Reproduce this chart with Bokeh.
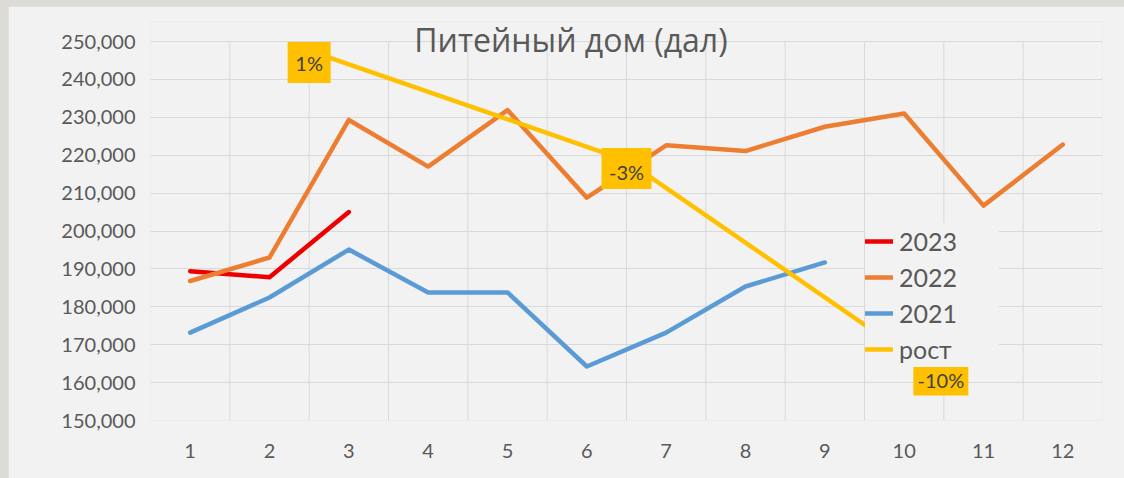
from bokeh.plotting import figure
from bokeh.models import (Range1d, FixedTicker, NumeralTickFormatter, Legend,
                          LegendItem, Label, GlobalInlineStyleSheet)
from bokeh.core.properties import value
from bokeh.embed import file_html
from bokeh.resources import INLINE

# ---------------- data ----------------
months = [1, 2, 3, 4, 5, 6, 7, 8, 9, 10, 11, 12]
y2023 = [189400, 187800, 205000]
y2022 = [186800, 193000, 229300, 217000, 231900, 208800, 222600, 221100,
         227500, 231000, 206700, 222800]
y2021 = [173200, 182450, 195100, 183800, 183800, 164250, 173200, 185350,
         191700]
growth = [0.010, -0.0268, -0.100]          # "рост" (secondary axes)
growth_labels = ["1%", "-3%", "-10%"]
y_ticks = [150000, 160000, 170000, 180000, 190000, 200000, 210000, 220000,
           230000, 240000, 250000]

# ---------------- style ----------------
FONT = "Lato"
TXT = "#595959"
GRID = "#d9d9d9"
BG = "#f2f2f2"
C23, C22, C21, CG = "#ee0000", "#ed7d31", "#5b9bd5", "#ffc000"

W, H = 1116, 472
GRID_H = 379          # px between the lowest and highest y gridline
EXT = 20              # frame extends this far above the top gridline (room for title)
ML, MR, MB = 142, 22, 58
MT = H - MB - GRID_H - EXT

y_lo, y_hi = y_ticks[0], y_ticks[-1]
y_end = y_hi + EXT * (y_hi - y_lo) / GRID_H

p = figure(width=W, height=H, title=None, output_backend="svg",
           toolbar_location=None,
           x_range=Range1d(0.5, 12.5), y_range=Range1d(y_lo, y_end),
           min_border_left=ML, min_border_right=MR,
           min_border_top=MT, min_border_bottom=MB)
p.stylesheets = [GlobalInlineStyleSheet(css=(
    "html, body { margin: 0; background-color: #dddbd6; }"
    " body { padding: 6px 0 0 8px; box-sizing: border-box; }"))]
p.background_fill_color = BG
p.border_fill_color = BG
p.outline_line_color = None

# secondary axes for "рост"
sec_lo, sec_hi = -0.11371, 0.01301
px_per_y = GRID_H / (sec_hi - sec_lo)
p.extra_x_ranges = {"sx": Range1d(0, len(growth))}
p.extra_y_ranges = {"sy": Range1d(sec_lo, sec_hi + EXT / px_per_y)}

# axes
p.xaxis.ticker = FixedTicker(ticks=months)
p.yaxis.ticker = FixedTicker(ticks=y_ticks)
p.yaxis.formatter = NumeralTickFormatter(format="0,0")
for ax in (p.xaxis, p.yaxis):
    ax.axis_line_color = None
    ax.major_tick_line_color = None
    ax.minor_tick_line_color = None
    ax.major_label_text_font = FONT
    ax.major_label_text_font_size = "20px"
    ax.major_label_text_color = TXT
p.xaxis.major_label_standoff = 17
p.yaxis.major_label_standoff = 9

# grids: horizontal via grid, vertical (category boundaries) as segments
p.xgrid.visible = False
p.ygrid.ticker = FixedTicker(ticks=y_ticks)
p.ygrid.grid_line_color = GRID
bounds = [m + 0.5 for m in months[:-1]]
p.segment(x0=bounds, y0=[y_lo] * len(bounds), x1=bounds, y1=[y_hi] * len(bounds),
          line_color=GRID, line_width=1)

LW = 4.5
r23 = p.line(months[:len(y2023)], y2023, line_color=C23, line_width=LW,
             line_join="round", line_cap="round")
r22 = p.line(months[:len(y2022)], y2022, line_color=C22, line_width=LW,
             line_join="round", line_cap="round")
r21 = p.line(months[:len(y2021)], y2021, line_color=C21, line_width=LW,
             line_join="round", line_cap="round")
gx = [i + 0.5 for i in range(len(growth))]
rg = p.line(gx, growth, line_color=CG, line_width=LW, line_join="round",
            line_cap="round", x_range_name="sx", y_range_name="sy")

# data label boxes for "рост"
px_per_x = (W - ML - MR) / len(growth)
box_off = [12, 8, 1.5]      # px downward from point
box_dx = [0, 0, -3]         # px right of point
box_h = [41, 41, 29]
text_off = [12.5, 11, 1]
box_w = [43, 50, 55]
box_x = [x + d / px_per_x for x, d in zip(gx, box_dx)]
box_y = [v - o / px_per_y for v, o in zip(growth, box_off)]
text_y = [v - o / px_per_y for v, o in zip(growth, text_off)]
p.rect(x=box_x, y=box_y, width=box_w, height=box_h, width_units="screen",
       height_units="screen", fill_color=CG, line_color=None,
       x_range_name="sx", y_range_name="sy")
p.text(x=box_x, y=text_y, text=growth_labels, text_align="center",
       text_baseline="middle", text_font=value(FONT), text_font_size="20px",
       text_color="#404040", x_range_name="sx", y_range_name="sy")

# title (overlaid in the plot area like Excel)
p.add_layout(Label(x=5.80, y=y_hi + 2 * (y_hi - y_lo) / GRID_H,
                   text="Питейный дом (дал)",
                   text_align="center", text_baseline="alphabetic",
                   text_font="Open Sans", text_font_size="32px",
                   text_color=TXT))

legend = Legend(items=[LegendItem(label="2023", renderers=[r23]),
                       LegendItem(label="2022", renderers=[r22]),
                       LegendItem(label="2021", renderers=[r21]),
                       LegendItem(label="рост", renderers=[rg])],
                location=(715, 53), orientation="vertical",
                background_fill_color=BG, background_fill_alpha=1,
                border_line_color=None, label_text_font=FONT,
                label_text_font_size="25px", label_text_color=TXT,
                glyph_width=28, glyph_height=36, label_height=36,
                spacing=0, padding=4, label_standoff=6, margin=0,
                label_width=100)
p.add_layout(legend)

open("out.html", "w").write(file_html(p, INLINE))
